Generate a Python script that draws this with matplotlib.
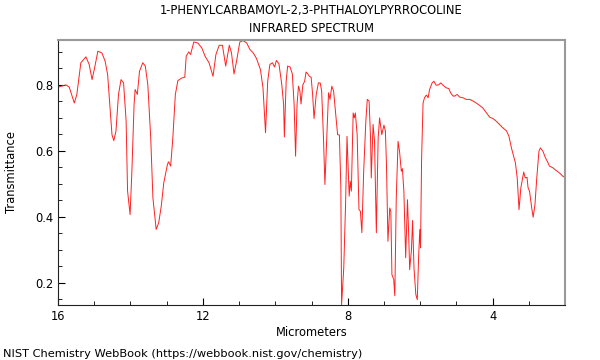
import matplotlib
matplotlib.use("Agg")
from matplotlib import pyplot as plt
from matplotlib.ticker import MultipleLocator

# wavelength (micrometers) and transmittance
wavelength = [
    16.00, 15.78, 15.69, 15.55, 15.48, 15.37, 15.23, 15.14, 15.06, 15.00,
    14.90, 14.79, 14.70, 14.63, 14.57, 14.51, 14.46, 14.40, 14.33, 14.26,
    14.19, 14.12, 14.08, 14.01, 13.96, 13.90, 13.87, 13.81, 13.75, 13.66,
    13.59, 13.52, 13.44, 13.38, 13.29, 13.22, 13.15, 13.08, 12.98, 12.95,
    12.89, 12.83, 12.76, 12.69, 12.58, 12.50, 12.46, 12.39, 12.34, 12.25,
    12.14, 12.03, 11.94, 11.83, 11.72, 11.64, 11.55, 11.46, 11.37, 11.27,
    11.21, 11.14, 11.07, 10.98, 10.89, 10.79, 10.70, 10.61, 10.52, 10.41,
    10.34, 10.27, 10.21, 10.15, 10.08, 10.02, 9.97, 9.90, 9.82, 9.77,
    9.75, 9.70, 9.66, 9.59, 9.53, 9.48, 9.44, 9.40, 9.36, 9.32,
    9.29, 9.24, 9.19, 9.15, 9.10, 9.06, 9.01, 8.97, 8.93, 8.87,
    8.81, 8.76, 8.72, 8.67, 8.63, 8.58, 8.53, 8.49, 8.44, 8.39,
    8.33, 8.28, 8.23, 8.19, 8.17, 8.11, 8.06, 8.02, 7.98, 7.96,
    7.93, 7.90, 7.85, 7.82, 7.79, 7.74, 7.69, 7.65, 7.61, 7.56,
    7.50, 7.46, 7.41, 7.37, 7.35, 7.30, 7.26, 7.21, 7.16, 7.12,
    7.06, 7.00, 6.96, 6.93, 6.89, 6.84, 6.81, 6.78, 6.73, 6.70,
    6.66, 6.61, 6.57, 6.52, 6.49, 6.45, 6.40, 6.35, 6.32, 6.29,
    6.24, 6.21, 6.17, 6.12, 6.08, 6.04, 6.01, 5.99, 5.96, 5.92,
    5.88, 5.83, 5.78, 5.74, 5.67, 5.62, 5.56, 5.49, 5.43, 5.37,
    5.28, 5.21, 5.16, 5.09, 5.05, 4.98, 4.91, 4.82, 4.73, 4.63,
    4.54, 4.45, 4.36, 4.27, 4.17, 4.08, 3.99, 3.90, 3.81, 3.72,
    3.62, 3.55, 3.48, 3.42, 3.37, 3.32, 3.27, 3.22, 3.16, 3.14,
    3.10, 3.05, 3.02, 2.98, 2.92, 2.88, 2.83, 2.78, 2.72, 2.68,
    2.61, 2.54, 2.47, 2.43, 2.34, 2.24, 2.15, 2.06, 2.01,
]
transmittance = [
    0.793, 0.800, 0.793, 0.745, 0.771, 0.867, 0.885, 0.862, 0.816, 0.846,
    0.902, 0.897, 0.872, 0.831, 0.740, 0.649, 0.631, 0.660, 0.771, 0.816,
    0.806, 0.691, 0.479, 0.407, 0.539, 0.740, 0.786, 0.771, 0.841, 0.867,
    0.857, 0.800, 0.639, 0.458, 0.362, 0.382, 0.432, 0.503, 0.558, 0.567,
    0.554, 0.639, 0.771, 0.813, 0.821, 0.823, 0.887, 0.900, 0.892, 0.930,
    0.927, 0.912, 0.887, 0.867, 0.826, 0.892, 0.920, 0.920, 0.857, 0.920,
    0.897, 0.833, 0.872, 0.930, 0.934, 0.927, 0.907, 0.897, 0.880, 0.846,
    0.791, 0.655, 0.811, 0.862, 0.867, 0.854, 0.874, 0.864, 0.800, 0.740,
    0.642, 0.811, 0.857, 0.854, 0.833, 0.740, 0.584, 0.740, 0.796, 0.781,
    0.742, 0.800, 0.811, 0.839, 0.833, 0.826, 0.823, 0.771, 0.698, 0.771,
    0.806, 0.806, 0.781, 0.639, 0.498, 0.639, 0.776, 0.756, 0.796, 0.781,
    0.710, 0.649, 0.648, 0.488, 0.134, 0.245, 0.437, 0.644, 0.518, 0.463,
    0.508, 0.478, 0.715, 0.700, 0.715, 0.649, 0.422, 0.417, 0.352, 0.538,
    0.690, 0.756, 0.751, 0.639, 0.518, 0.680, 0.629, 0.352, 0.639, 0.700,
    0.649, 0.678, 0.660, 0.558, 0.326, 0.427, 0.417, 0.225, 0.210, 0.161,
    0.458, 0.629, 0.599, 0.538, 0.546, 0.478, 0.276, 0.452, 0.357, 0.240,
    0.301, 0.389, 0.245, 0.165, 0.149, 0.286, 0.362, 0.306, 0.579, 0.745,
    0.761, 0.769, 0.761, 0.786, 0.806, 0.811, 0.799, 0.800, 0.806, 0.799,
    0.791, 0.789, 0.776, 0.766, 0.766, 0.771, 0.763, 0.761, 0.756, 0.756,
    0.751, 0.745, 0.738, 0.730, 0.715, 0.702, 0.698, 0.690, 0.680, 0.670,
    0.661, 0.645, 0.609, 0.584, 0.564, 0.518, 0.422, 0.488, 0.523, 0.536,
    0.518, 0.520, 0.488, 0.478, 0.427, 0.399, 0.437, 0.518, 0.599, 0.609,
    0.599, 0.579, 0.564, 0.554, 0.549, 0.540, 0.533, 0.523, 0.520,
]

title = "1-PHENYLCARBAMOYL-2,3-PHTHALOYLPYRROCOLINE\nINFRARED SPECTRUM"

fig = plt.figure(figsize=(6, 3.6), dpi=100)
ax = fig.add_axes([0.0967, 0.1528, 0.845, 0.7361])

ax.plot(wavelength, transmittance, color='#ff2020', linewidth=0.7)

ax.set_xlim(16, 2)
ax.set_ylim(0.133, 0.936)
ax.set_xticks([16, 12, 8, 4])
ax.xaxis.set_minor_locator(MultipleLocator(1))
ax.set_yticks([0.2, 0.4, 0.6, 0.8])
ax.yaxis.set_minor_locator(MultipleLocator(0.05))
ax.tick_params(which='both', direction='in', labelsize=8.3, top=False, right=False)
ax.tick_params(which='major', length=5, width=0.8)
ax.tick_params(which='minor', length=3, width=0.6)

for side in ['top', 'right']:
    ax.spines[side].set_color('#999999')
    ax.spines[side].set_linewidth(1.5)
for side in ['left', 'bottom']:
    ax.spines[side].set_color('#222222')

ax.set_xlabel('Micrometers', fontsize=8.3, labelpad=2)
ax.set_ylabel('Transmittance', fontsize=8.3, labelpad=12)
ax.set_title(title, fontsize=8.3, linespacing=1.45, pad=6)

fig.text(0.005, 0.002, 'NIST Chemistry WebBook (https://webbook.nist.gov/chemistry)',
         fontsize=8.2, ha='left', va='bottom')

fig.savefig('out.png', dpi=100)
